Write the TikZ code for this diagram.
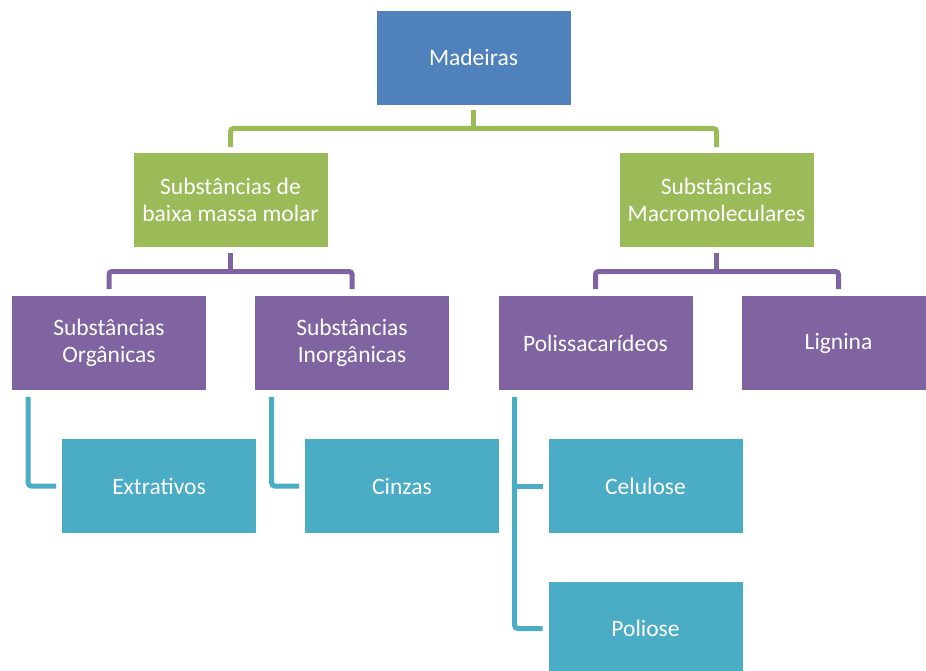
\documentclass[tikz,border=0pt]{standalone}
\usepackage{fontspec}
\setmainfont{Carlito}
\usetikzlibrary{calc}
\definecolor{cblue}{HTML}{4F81BD}
\definecolor{cgreen}{HTML}{9BBB59}
\definecolor{cpurple}{HTML}{8064A2}
\definecolor{cteal}{HTML}{4BACC6}
\tikzset{
  box/.style={rectangle, draw=white, line width=0.6bp, inner sep=0pt,
    minimum width=195bp, minimum height=95bp, text=white, align=center,
    font=\fontsize{23.6pt}{26.8pt}\selectfont},
  bluebox/.style={box, fill=cblue},
  greenbox/.style={box, fill=cgreen},
  purplebox/.style={box, fill=cpurple},
  tealbox/.style={box, fill=cteal},
  link/.style={line width=5bp, rounded corners=3bp},
  glink/.style={link, draw=cgreen},
  plink/.style={link, draw=cpurple},
  tlink/.style={link, draw=cteal},
}
\begin{document}
\begin{tikzpicture}[x=1bp, y=-1bp]
\path[use as bounding box] (0,0) rectangle (926,671);
\begin{scope}
\clip (0,0) rectangle (926,671);
\node[bluebox] (mad) at (473.5,57.5) {Madeiras};
\node[greenbox] (sbm) at (230.5,200) {Substâncias de\\baixa massa molar};
\node[greenbox] (mac) at (716.5,200) {Substâncias\\Macromoleculares};
\node[purplebox] (sorg) at (109,343) {Substâncias\\Orgânicas};
\node[purplebox] (sinorg) at (352,343) {Substâncias\\Inorgânicas};
\node[purplebox] (poli) at (595.5,343) {Polissacarídeos};
\node[purplebox] (lig) at (838.5,343) {Lignina};
\node[tealbox] (ext) at (159,486) {Extrativos};
\node[tealbox] (cin) at (402,486) {Cinzas};
\node[tealbox] (cel) at (645.5,486) {Celulose};
\node[tealbox] (pol) at (645.5,628.5) {Poliose};

% green level
\draw[glink] ([yshift=-5bp]mad.south) -- (mad.south |- 0,128.5);
\draw[glink] ([yshift=5bp]sbm.north) |- (mac.north |- 0,128.5) -- ([yshift=5bp]mac.north);
% purple level, left
\draw[plink] ([yshift=-5bp]sbm.south) -- (sbm.south |- 0,271.5);
\draw[plink] ([yshift=6bp]sorg.north) |- (sinorg.north |- 0,271.5) -- ([yshift=6bp]sinorg.north);
% purple level, right
\draw[plink] ([yshift=-5bp]mac.south) -- (mac.south |- 0,271.5);
\draw[plink] ([yshift=6bp]poli.north) |- (lig.north |- 0,271.5) -- ([yshift=6bp]lig.north);
% teal level
\draw[tlink] ([xshift=17bp,yshift=-6bp]sorg.south west) |- ([xshift=-5bp]ext.west);
\draw[tlink] ([xshift=17.5bp,yshift=-6bp]sinorg.south west) |- ([xshift=-5bp]cin.west);
\draw[tlink] ([xshift=17bp,yshift=-6bp]poli.south west) |- ([xshift=-5bp]pol.west);
\draw[tlink] ([xshift=17bp]poli.south west |- cel.west) -- ([xshift=-5bp]cel.west);
\end{scope}
\end{tikzpicture}
\end{document}
